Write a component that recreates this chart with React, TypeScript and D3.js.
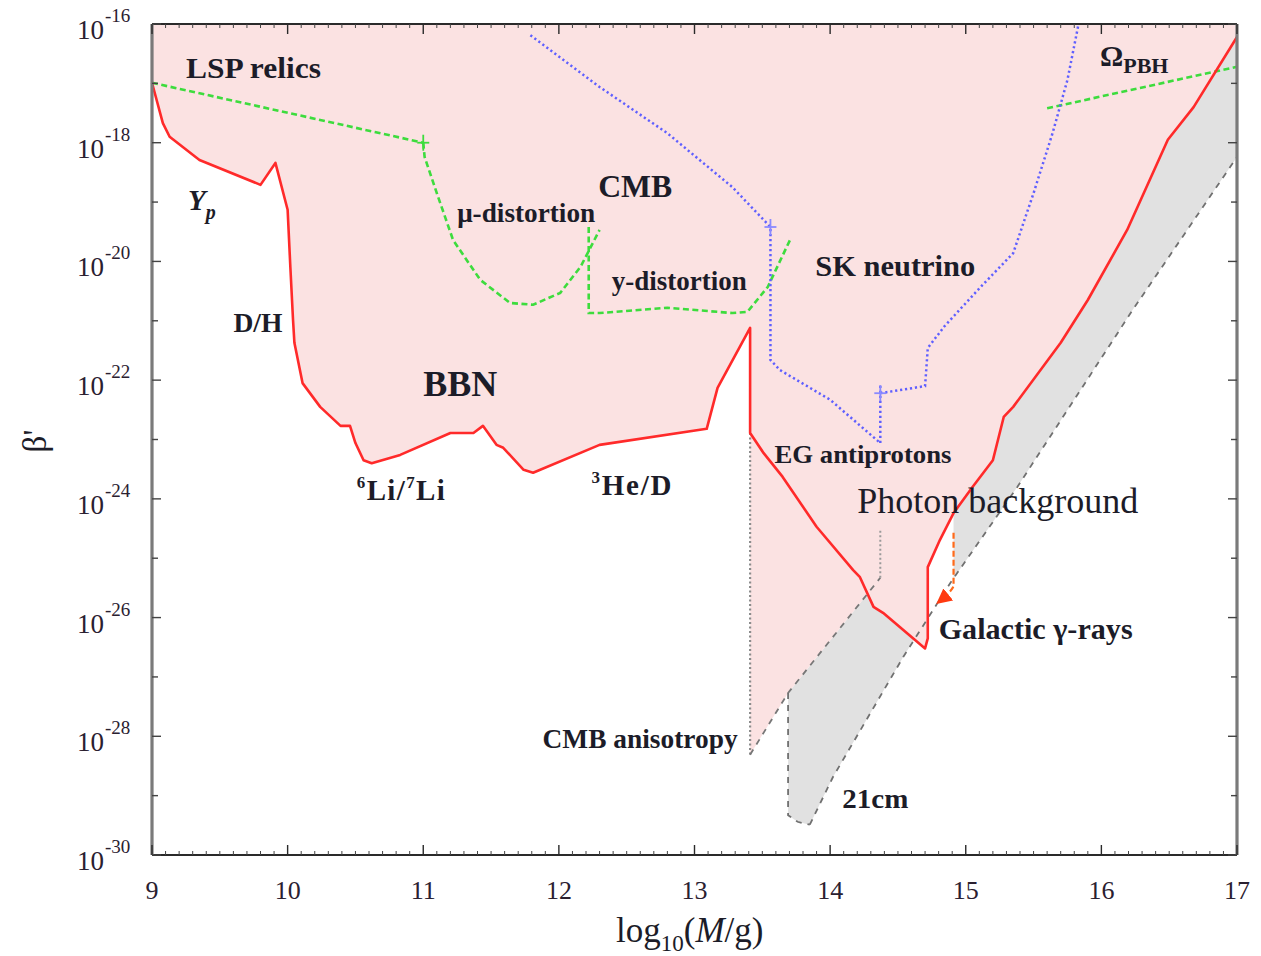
import React from "react";
import * as d3 from "d3";

type Pt = [number, number];

// ---------- axes ----------
const X_TICKS = [9, 10, 11, 12, 13, 14, 15, 16, 17];
const X_MINOR = d3.range(90, 171).filter((v) => v % 10 !== 0).map((v) => v / 10);
const Y_DECADES = d3.range(-30, -15); // exponents -30 .. -16
const Y_LABEL_EXPS = [-16, -18, -20, -22, -24, -26, -28, -30];

// ---------- curves: [log10(M/g), log10(beta')] ----------
const redBound: Pt[] = [
  [9.0, -16.99], [9.08, -17.67], [9.13, -17.9], [9.35, -18.29], [9.8, -18.71], [9.91, -18.34],
  [10.0, -19.13], [10.02, -20.09], [10.04, -20.99], [10.05, -21.37], [10.11, -22.05],
  [10.24, -22.45], [10.39, -22.77], [10.46, -22.77], [10.5, -23.06], [10.56, -23.35],
  [10.62, -23.4], [10.83, -23.26], [11.2, -22.89], [11.37, -22.89], [11.44, -22.77],
  [11.54, -23.09], [11.59, -23.14], [11.74, -23.51], [11.81, -23.56], [12.3, -23.09],
  [13.09, -22.82], [13.17, -22.13], [13.41, -21.12], [13.41, -22.89], [13.51, -23.23],
  [13.65, -23.63], [13.9, -24.47], [14.17, -25.2], [14.22, -25.32], [14.32, -25.82],
  [14.39, -25.92], [14.7, -26.52], [14.72, -26.35], [14.72, -25.15], [14.81, -24.69],
  [14.91, -24.24], [15.05, -23.8], [15.2, -23.35], [15.28, -22.62], [15.35, -22.45],
  [15.7, -21.37], [15.9, -20.65], [16.19, -19.47], [16.49, -17.95], [16.68, -17.4],
  [17.0, -16.22],
];

const cmbAnisoVert: Pt[] = [[13.41, -22.89], [13.41, -28.31]];
const cmbAnisoDiag: Pt[] = [[13.41, -28.31], [13.69, -27.27], [14.37, -25.33]];
const cmbAnisoTop: Pt[] = [[14.37, -25.33], [14.37, -24.52]];

const line21Left: Pt[] = [[13.69, -27.27], [13.69, -29.33], [13.76, -29.44], [13.85, -29.49]];
const line21Lower: Pt[] = [
  [13.85, -29.49], [14.02, -28.69], [14.54, -26.66], [14.885, -25.42],
  [15.38, -23.8], [16.23, -20.82], [17.0, -18.24],
];

const galacticArrow: Pt[] = [[14.91, -24.57], [14.91, -25.45], [14.86, -25.62], [14.8, -25.74]];

const lspRelics: Pt[] = [[9.0, -16.99], [11.0, -18.0]];
const muDistortion: Pt[] = [
  [11.0, -18.0], [11.01, -18.24], [11.1, -18.85], [11.22, -19.64], [11.42, -20.31],
  [11.64, -20.7], [11.81, -20.73], [12.01, -20.53], [12.16, -20.09], [12.3, -19.47],
];
const yDistortion: Pt[] = [
  [12.22, -19.42], [12.22, -20.87], [12.3, -20.87], [12.8, -20.78], [13.28, -20.87],
  [13.39, -20.85], [13.54, -20.43], [13.71, -19.61],
];
const omegaPBH: Pt[] = [[15.6, -17.42], [17.0, -16.72]];

const skNeutrino: Pt[] = [
  [11.79, -16.19], [12.3, -17.06], [12.8, -17.84], [13.28, -18.75], [13.56, -19.42],
  [13.56, -21.66], [13.63, -21.83], [14.0, -22.33], [14.37, -23.06],
];
const egVertical: Pt[] = [[14.37, -23.06], [14.37, -22.05]];
const egAntiprotons: Pt[] = [
  [14.37, -22.22], [14.7, -22.1], [14.72, -21.46], [14.84, -21.1], [15.11, -20.43],
  [15.35, -19.86], [15.5, -18.85], [15.64, -17.84], [15.75, -16.94], [15.83, -16.02],
];

// ---------- labels (anchor = left baseline, in data coords) ----------
const plainLabels = [
  { text: "LSP relics", x: 9.25, y: -16.91, size: 30, weight: "bold", w: 135 },
  { text: "D/H", x: 9.6, y: -21.19, size: 27, weight: "bold", w: 49 },
  { text: "BBN", x: 11.0, y: -22.27, size: 35, weight: "bold", w: 74 },
  { text: "CMB", x: 12.29, y: -18.91, size: 31, weight: "bold", w: 74 },
  { text: "μ-distortion", x: 11.25, y: -19.34, size: 27, weight: "bold", w: 138 },
  { text: "y-distortion", x: 12.39, y: -20.48, size: 27, weight: "bold", w: 135 },
  { text: "SK neutrino", x: 13.89, y: -20.25, size: 30, weight: "bold", w: 160 },
  { text: "EG antiprotons", x: 13.59, y: -23.4, size: 25, weight: "bold", w: 177 },
  { text: "Photon background", x: 14.2, y: -24.24, size: 36, weight: "normal", w: 281 },
  { text: "Galactic γ-rays", x: 14.8, y: -26.36, size: 29, weight: "bold", w: 194 },
  { text: "CMB anisotropy", x: 11.88, y: -28.2, size: 27, weight: "bold", w: 195 },
  { text: "21cm", x: 14.09, y: -29.21, size: 28, weight: "bold", w: 66 },
];

const SERIF = "'Liberation Serif', 'Times New Roman', serif";

function segIntersect(a: Pt, b: Pt, c: Pt, d: Pt): Pt | null {
  const rx = b[0] - a[0], ry = b[1] - a[1];
  const sx = d[0] - c[0], sy = d[1] - c[1];
  const den = rx * sy - ry * sx;
  if (Math.abs(den) < 1e-12) return null;
  const qx = c[0] - a[0], qy = c[1] - a[1];
  const t = (qx * sy - qy * sx) / den;
  const u = (qx * ry - qy * rx) / den;
  if (t >= 0 && t <= 1 && u >= 0 && u <= 1) return [a[0] + t * rx, a[1] + t * ry];
  return null;
}

function firstCrossing(a: Pt[], startA: number, b: Pt[]) {
  for (let i = startA; i < a.length - 1; i++)
    for (let j = 0; j < b.length - 1; j++) {
      const p = segIntersect(a[i], a[i + 1], b[j], b[j + 1]);
      if (p) return { p, i, j };
    }
  return null;
}

function interpAt(pts: Pt[], xv: number): number {
  for (let k = 0; k < pts.length - 1; k++) {
    const [x0, y0] = pts[k];
    const [x1, y1] = pts[k + 1];
    if (x1 > x0 && xv >= x0 && xv <= x1) return y0 + ((y1 - y0) * (xv - x0)) / (x1 - x0);
  }
  return pts[pts.length - 1][1];
}

export default function App() {
  const W = 1261, H = 956;
  const left = 152, right = 1237, top = 24, bottom = 855;

  const x = d3.scaleLinear().domain([9, 17]).range([left, right]);
  const yLog = d3.scaleLog().domain([1e-30, 1e-16]).range([bottom, top]);
  const y = (e: number) => yLog(Math.pow(10, e));
  const line = d3.line<Pt>().x((d) => x(d[0])).y((d) => y(d[1]));
  const poly = (pts: Pt[]) => (line(pts) || "") + "Z";

  // geometry of filled regions
  const dropIdx = redBound.findIndex((p, k) => k > 0 && p[0] === redBound[k - 1][0] && p[1] < redBound[k - 1][1]);
  const P = firstCrossing(redBound, dropIdx, cmbAnisoDiag)!;
  const Q = firstCrossing(redBound, P.i, line21Lower)!;
  const tipIdx = d3.minIndex(redBound, (d) => d[1]);
  const afterTip = redBound.slice(tipIdx);
  const arrowX = galacticArrow[0][0];

  const pinkPts: Pt[] = [
    [9, -16],
    ...redBound.slice(0, dropIdx + 1),
    cmbAnisoVert[1],
    ...cmbAnisoDiag.slice(1, P.j + 1),
    P.p,
    ...redBound.slice(P.i + 1),
    [17, -16],
  ];

  const grayPts: Pt[] = [
    line21Left[0],
    P.p,
    ...redBound.slice(P.i + 1, Q.i + 1),
    Q.p,
    ...line21Lower.filter((p) => p[0] > Q.p[0] && p[0] < arrowX),
    [arrowX, interpAt(line21Lower, arrowX)],
    [arrowX, interpAt(afterTip, arrowX)],
    ...afterTip.filter((p) => p[0] > arrowX),
    ...[...line21Lower].reverse(),
    ...[...line21Left].reverse().slice(1),
  ];

  const green = { fill: "none", stroke: "#3ddc3d", strokeWidth: 2.6, strokeDasharray: "6 3.5" };
  const blue = { fill: "none", stroke: "#5f5fff", strokeWidth: 2.5, strokeDasharray: "2.2 2.8" };
  const textFill = "#1c1c28";

  const cross = (p: Pt, color: string, key: string) => (
    <g key={key} stroke={color} strokeWidth={1.8}>
      <line x1={x(p[0]) - 6} x2={x(p[0]) + 6} y1={y(p[1])} y2={y(p[1])} />
      <line x1={x(p[0])} x2={x(p[0])} y1={y(p[1]) - 8} y2={y(p[1]) + 8} />
    </g>
  );

  return (
    <svg
      width={W}
      height={H}
      viewBox={`0 0 ${W} ${H}`}
      style={{ position: "absolute", left: 0, top: 0, background: "#fff" }}
      fontFamily={SERIF}
    >
      <defs>
        <marker id="arrowHead" viewBox="0 0 10 10" refX="8" refY="5" markerWidth="7" markerHeight="7" orient="auto">
          <path d="M0,0 L10,5 L0,10 Z" fill="#ff3a10" />
        </marker>
      </defs>

      {/* filled regions */}
      <path d={poly(grayPts)} fill="#e1e1e1" />
      <path d={poly(pinkPts)} fill="#fbe2e2" />

      {/* gray boundaries */}
      <path d={line(cmbAnisoVert) || ""} fill="none" stroke="#8c8c8c" strokeWidth={2.2} strokeDasharray="2 2.5" />
      <path d={line(cmbAnisoDiag) || ""} fill="none" stroke="#777" strokeWidth={1.8} strokeDasharray="6 6" />
      <path d={line(cmbAnisoTop) || ""} fill="none" stroke="#9a9a9a" strokeWidth={2} strokeDasharray="2 2.5" />
      <path d={line(line21Left) || ""} fill="none" stroke="#707070" strokeWidth={1.8} strokeDasharray="6 6" />
      <path d={line(line21Lower) || ""} fill="none" stroke="#707070" strokeWidth={1.8} strokeDasharray="6 6" />

      {/* green CMB / relic lines */}
      <path d={line(lspRelics) || ""} {...green} />
      <path d={line(muDistortion) || ""} {...green} />
      <path d={line(yDistortion) || ""} {...green} />
      <path d={line(omegaPBH) || ""} {...green} />
      {cross(lspRelics[1], "#3ddc3d", "c1")}

      {/* blue neutrino / antiproton lines */}
      <path d={line(skNeutrino) || ""} {...blue} />
      <path d={line(egVertical) || ""} {...blue} />
      <path d={line(egAntiprotons) || ""} {...blue} />
      {cross(egAntiprotons[0], "#8a8aff", "c2")}
      {cross(skNeutrino[4], "#8a8aff", "c3")}

      {/* main red bound */}
      <path d={line(redBound) || ""} fill="none" stroke="#ff2a2a" strokeWidth={2.6} strokeLinejoin="round" />

      {/* galactic gamma-ray arrow */}
      <path
        d={d3.line<Pt>().x((d) => x(d[0])).y((d) => y(d[1])).curve(d3.curveMonotoneY)(galacticArrow) || ""}
        fill="none"
        stroke="#ff6a1a"
        strokeWidth={2.2}
        strokeDasharray="6 3"
        markerEnd="url(#arrowHead)"
      />

      {/* labels */}
      {plainLabels.map((l) => (
        <text
          key={l.text}
          x={x(l.x)}
          y={y(l.y)}
          fontSize={l.size}
          fontWeight={l.weight}
          fill={textFill}
          textLength={l.w}
          lengthAdjust="spacingAndGlyphs"
        >
          {l.text}
        </text>
      ))}
      <text x={x(9.265)} y={y(-19.13)} fill={textFill} fontWeight="bold" fontStyle="italic">
        <tspan fontSize={29}>Y</tspan>
        <tspan fontSize={20} dy={9}>p</tspan>
      </text>
      <text x={x(10.51)} y={y(-24.02)} fill={textFill} fontWeight="bold" textLength={88}>
        <tspan fontSize={17} dy={-12}>6</tspan>
        <tspan fontSize={29} dy={12}>Li/</tspan>
        <tspan fontSize={17} dy={-12}>7</tspan>
        <tspan fontSize={29} dy={12}>Li</tspan>
      </text>
      <text x={x(12.24)} y={y(-23.93)} fill={textFill} fontWeight="bold" textLength={80}>
        <tspan fontSize={17} dy={-12}>3</tspan>
        <tspan fontSize={29} dy={12}>He/D</tspan>
      </text>
      <text x={x(15.99)} y={y(-16.71)} fill={textFill} fontWeight="bold">
        <tspan fontSize={29}>Ω</tspan>
        <tspan fontSize={22} dy={7}>PBH</tspan>
      </text>

      {/* frame */}
      <line x1={left} x2={right} y1={top} y2={top} stroke="#2a2a2a" strokeWidth={2.2} />
      <line x1={left} x2={right} y1={bottom} y2={bottom} stroke="#2a2a2a" strokeWidth={2.2} />
      <line x1={left} x2={left} y1={top} y2={bottom} stroke="#7a7a7a" strokeWidth={3.2} />
      <line x1={right} x2={right} y1={top} y2={bottom} stroke="#7a7a7a" strokeWidth={3.2} />

      {/* x ticks */}
      {X_TICKS.map((t) => (
        <g key={"xt" + t} stroke="#2a2a2a" strokeWidth={1.4}>
          <line x1={x(t)} x2={x(t)} y1={bottom} y2={bottom - 10} />
          <line x1={x(t)} x2={x(t)} y1={top} y2={top + 10} />
        </g>
      ))}
      {X_MINOR.map((t) => (
        <g key={"xm" + t} stroke="#444" strokeWidth={1}>
          <line x1={x(t)} x2={x(t)} y1={bottom} y2={bottom - 4} />
          <line x1={x(t)} x2={x(t)} y1={top} y2={top + 4} />
        </g>
      ))}
      {X_TICKS.map((t) => (
        <text key={"xl" + t} x={x(t)} y={bottom + 44} fontSize={26} textAnchor="middle" fill="#2a2030">
          {t}
        </text>
      ))}

      {/* y ticks */}
      {Y_DECADES.map((e) => {
        const len = e % 2 === 0 ? 9 : 6;
        return (
          <g key={"yt" + e} stroke="#444" strokeWidth={1.4}>
            <line x1={left} x2={left + len} y1={y(e)} y2={y(e)} />
            <line x1={right} x2={right - len} y1={y(e)} y2={y(e)} />
          </g>
        );
      })}
      {Y_LABEL_EXPS.map((e) => (
        <text key={"yl" + e} x={left - 75} y={y(e) + 15} fill="#2a2030">
          <tspan fontSize={27}>10</tspan>
          <tspan fontSize={19} dx={1} dy={-17}>{String(e)}</tspan>
        </text>
      ))}

      {/* axis titles */}
      <text x={616} y={942} fill="#1c1c28">
        <tspan fontSize={35}>log</tspan>
        <tspan fontSize={23} dy={9}>10</tspan>
        <tspan fontSize={35} dy={-9}>(</tspan>
        <tspan fontSize={35} fontStyle="italic">M</tspan>
        <tspan fontSize={35}>/g)</tspan>
      </text>
      <text transform="translate(46,441) rotate(-90)" fontSize={33} textAnchor="middle" fill="#1c1c28">
        β'
      </text>
    </svg>
  );
}
